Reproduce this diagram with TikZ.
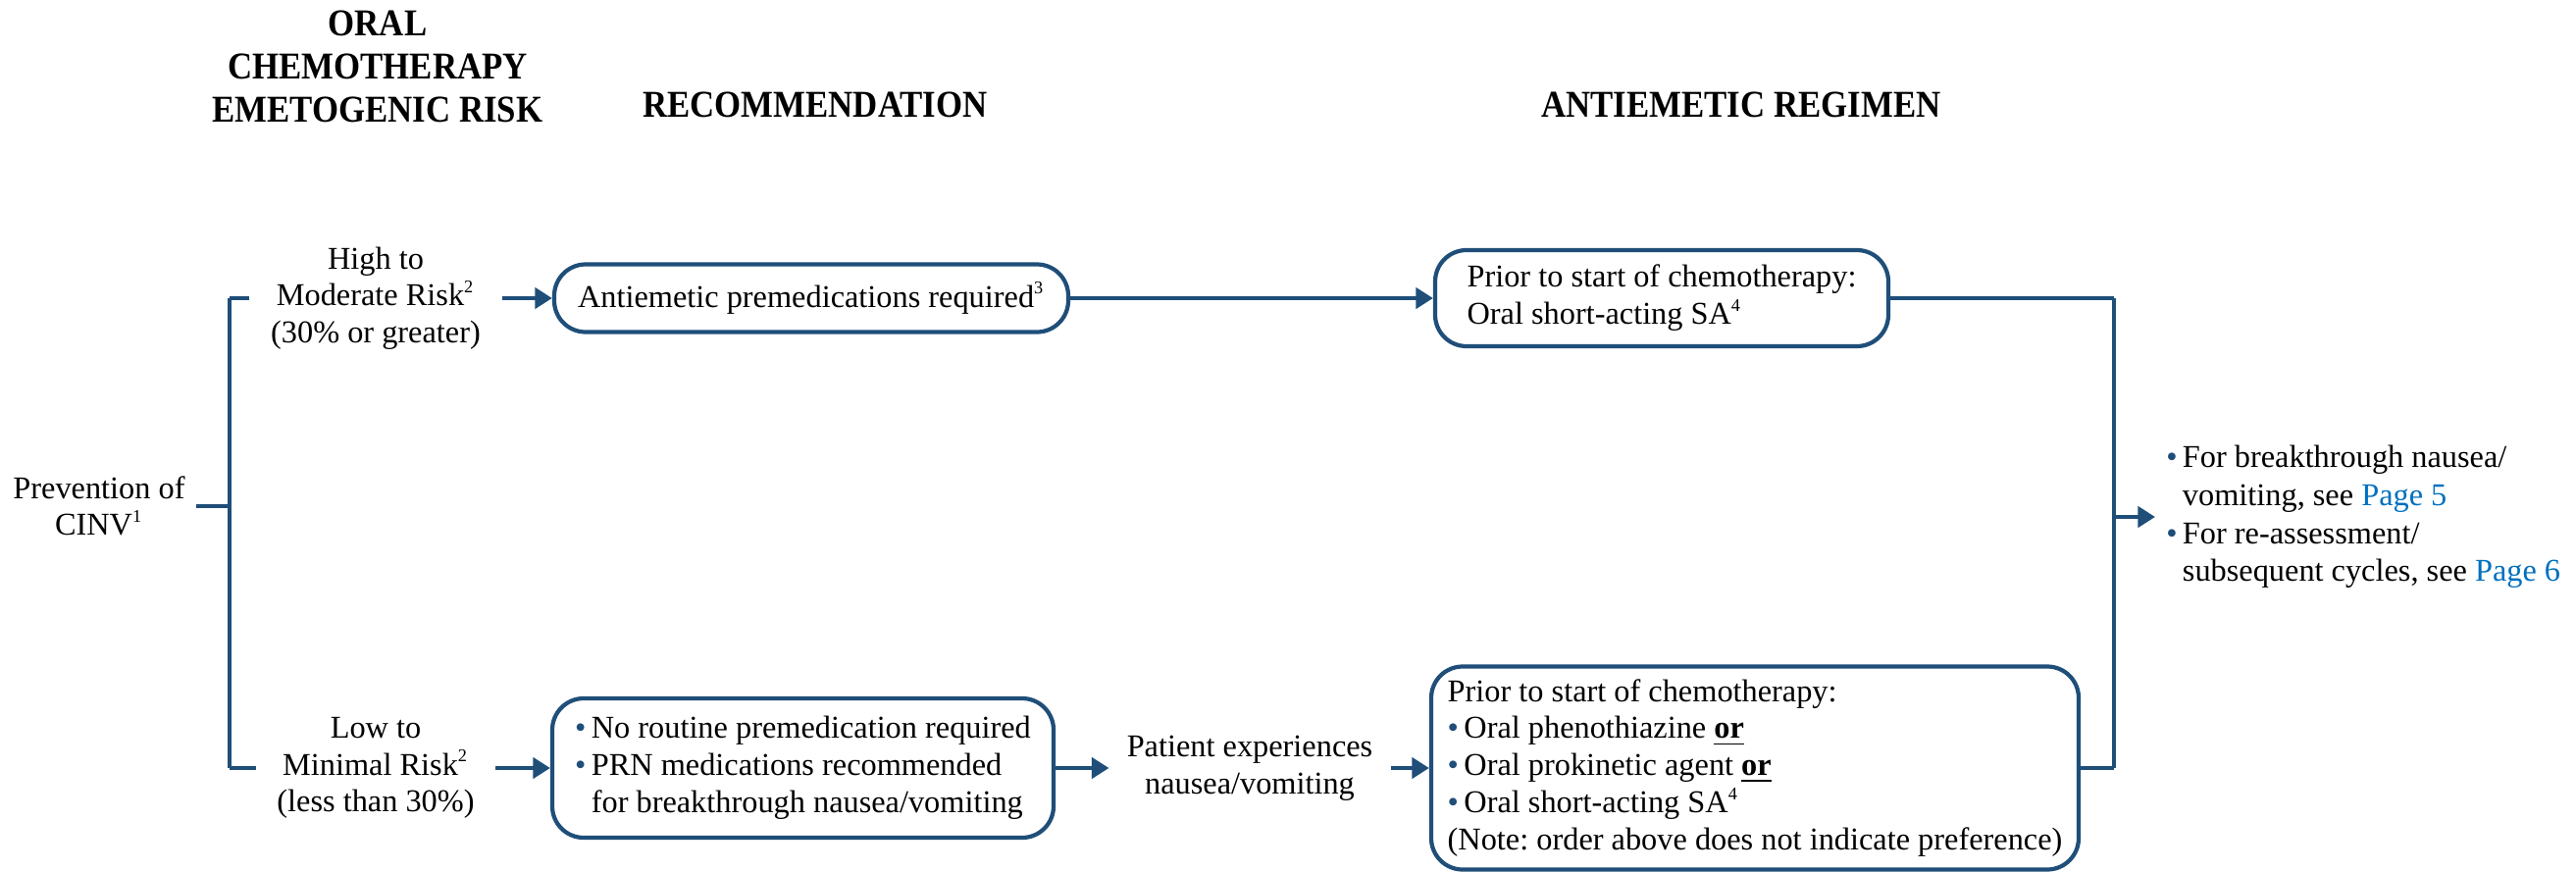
\documentclass[tikz,border=0pt]{standalone}
\usepackage{fontspec}
\setmainfont{Liberation Serif}
\newfontfamily\hdrfont[FakeStretch=0.9]{Liberation Serif}
\usetikzlibrary{arrows.meta}
\definecolor{nccnblue}{RGB}{31,78,121}
\definecolor{linkblue}{RGB}{0,112,192}
\newcommand{\bul}{{\color{nccnblue}\textbullet}\,}
\newcommand{\nobul}{\hphantom{\textbullet\,}}
\newcommand{\fn}[1]{\textsuperscript{\fontsize{5.2}{6}\selectfont #1}}
\frenchspacing
\begin{document}
\begin{tikzpicture}[
    lbl/.style={font=\fontsize{9.2}{10.7}\selectfont, align=center, inner xsep=6pt},
    hdr/.style={font=\hdrfont\bfseries\fontsize{11}{12.6}\selectfont, align=center},
    pill/.style={draw=nccnblue, line width=1.2pt, rounded corners=0.32cm,
      font=\fontsize{9.2}{10.8}\selectfont, align=left},
    arr/.style={-{Triangle[length=5pt,width=6pt]}},
  ]
  \useasboundingbox (0,0) rectangle (26.26,8.88);
  \draw
    (3.85,8.20) node[hdr] (hrisk){ORAL\\CHEMOTHERAPY\\EMETOGENIC RISK}
    (8.31,7.81) node[hdr] (hrec){RECOMMENDATION}
    (17.75,7.81) node[hdr] (hreg){ANTIEMETIC REGIMEN}
    (1.01,3.72) node[lbl, inner xsep=3pt] (prev){Prevention of\\CINV\fn{1}}
    (3.83,5.84) node[lbl] (hi){High to\\Moderate Risk\fn{2}\\(30\% or greater)}
    (3.83,1.05) node[lbl] (lo){Low to\\Minimal Risk\fn{2}\\(less than 30\%)}
    (8.27,5.84) node[pill, minimum width=5.24cm, minimum height=0.69cm] (box1)
      {Antiemetic premedications required\fn{3}}
    (16.94,5.84) node[pill, minimum width=4.62cm, minimum height=0.98cm] (box2)
      {Prior to start of chemotherapy:\\Oral short-acting SA\fn{4}}
    (8.185,1.05) node[pill, minimum width=5.11cm, minimum height=1.42cm] (box3)
      {\bul No routine premedication required\\
       \bul PRN medications recommended\\
       \nobul for breakthrough nausea/vomiting}
    (12.74,1.05) node[lbl, inner xsep=5pt] (pat){Patient experiences\\nausea/vomiting}
    (17.89,1.05) node[pill, minimum width=6.60cm, minimum height=2.07cm] (box4)
      {Prior to start of chemotherapy:\\
       \bul Oral phenothiazine \textbf{\underline{or}}\\
       \bul Oral prokinetic agent \textbf{\underline{or}}\\
       \bul Oral short-acting SA\fn{4}\\
       (Note: order above does not indicate preference)}
    (21.97,3.61) node[lbl, anchor=west, align=left, inner xsep=3pt,
      font=\fontsize{9.2}{11}\selectfont] (next)
      {\bul For breakthrough nausea/\\
       \nobul vomiting, see {\color{linkblue}Page 5}\\
       \bul For re-assessment/\\
       \nobul subsequent cycles, see {\color{linkblue}Page 6}};
  \coordinate (split) at (2.34,3.72);
  \coordinate (top) at (2.34,5.84);
  \coordinate (bot) at (2.34,1.05);
  \coordinate (jtop) at (21.55,5.84);
  \coordinate (jbot) at (21.55,1.05);
  \coordinate (jmid) at (21.55,3.61);
  \begin{scope}[nccnblue, line width=1.2pt]
    \draw (prev) to (split);
    \draw (top) to (bot);
    \draw (top) to (hi);
    \draw (bot) to (lo);
    \draw[arr] (hi) to (box1);
    \draw[arr] (box1) to (box2);
    \draw[arr] (lo) to (box3);
    \draw[arr] (box3) to (pat);
    \draw[arr] (pat) to (box4);
    \draw (box2) to (jtop);
    \draw (jtop) to (jbot);
    \draw (box4) to (jbot);
    \draw[arr] (jmid) to (next);
  \end{scope}
\end{tikzpicture}
\end{document}
